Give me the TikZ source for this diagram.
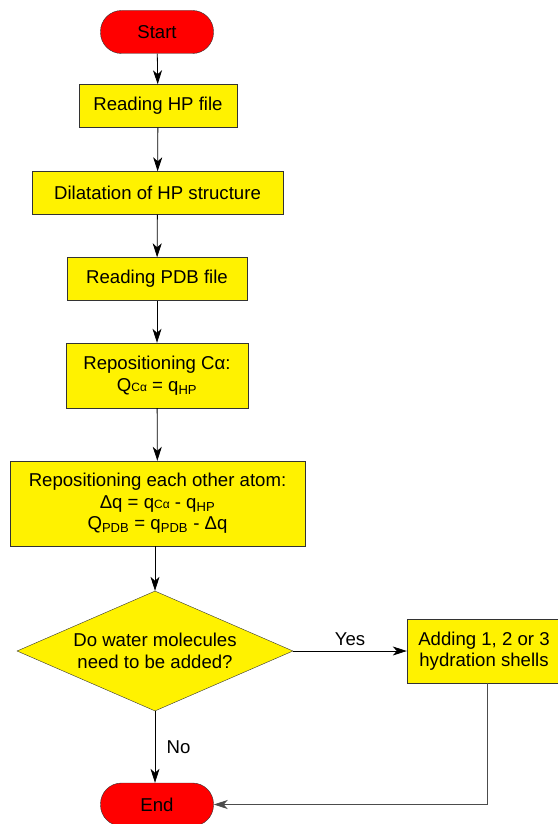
\documentclass[tikz,border=0pt]{standalone}
\usepackage{fontspec}
\setmainfont{Liberation Sans}
\usetikzlibrary{shapes,positioning,arrows.meta}

\newcommand{\lowsub}[1]{\textsubscript{#1}}
\newcommand{\flatsub}[1]{{\fontsize{12}{12}\selectfont #1}}

\begin{document}
\begin{tikzpicture}[x=1pt,y=-1pt,
  font=\fontsize{18.6}{21.5}\selectfont,
  terminal/.style={draw=black!80,fill=red,rectangle,rounded corners=21pt,minimum width=113pt,minimum height=43pt,inner sep=0pt},
  process/.style={draw=black!80,fill=yellow,rectangle,minimum height=43pt,inner sep=2pt,align=center},
  decision/.style={draw=black!80,fill=yellow,diamond,aspect=2.3,minimum width=276pt,minimum height=120pt,inner sep=0pt,align=center},
  arr/.style={draw=black,line width=0.8pt,-{Stealth[length=14pt,width=9pt,inset=4pt]}}]
\useasboundingbox (0,0) rectangle (557,824);
\node[terminal] (start) at (157,32) {Start};
\node[process,minimum width=158pt] (readhp) at (158,106) {Reading HP file};
\node[process,minimum width=251pt] (dilat) at (157.5,193) {Dilatation of HP structure};
\node[process,minimum width=180pt] (readpdb) at (157,279) {Reading PDB file};
\node[process,minimum width=182pt,minimum height=65pt] (reposca) at (157,375.5) {Repositioning Cα:\\Q\flatsub{Cα} = q\lowsub{HP}};
\node[process,minimum width=295pt,minimum height=85pt] (reposall) at (157.5,503.5) {Repositioning each other atom:\\Δq = q\flatsub{Cα} - q\lowsub{HP}\\Q\lowsub{PDB} = q\lowsub{PDB} - Δq};
\node[decision] (water) at (155,651) {Do water molecules\\need to be added?};
\node[process,minimum width=154pt,minimum height=64pt] (shells) at (484,651) {Adding 1, 2 or 3\\hydration shells};
\node[terminal] (end) at (157,804.5) {End};
% main flow
\draw[arr] (start) -- (readhp);
\draw[arr] (readhp) -- (dilat);
\draw[arr] (dilat) -- (readpdb);
\draw[arr] (readpdb) -- (reposca);
\draw[arr] (reposca) -- (reposall);
\draw[arr] (reposall.south -| water.north) -- (water.north);
\draw[arr] (water.east) -- node[above=2pt] (yes) {Yes} (shells.west);
\draw[arr] (water.south) -- node[right=8pt] (no) {No} (end.north -| water.south);
\draw[arr,draw=black!70] ([xshift=3pt]shells.south) |- (end.east);
\end{tikzpicture}
\end{document}
